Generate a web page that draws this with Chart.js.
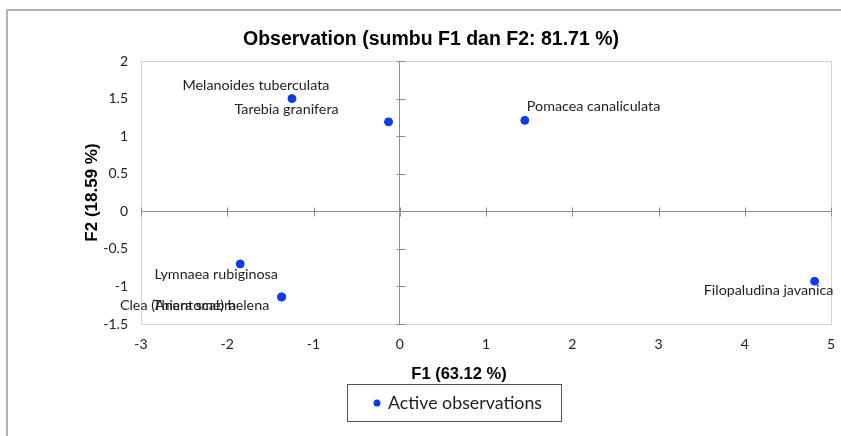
<!DOCTYPE html>
<html>
<head>
<meta charset="utf-8">
<script src="https://cdn.jsdelivr.net/npm/chart.js@4"></script>
<style>
  html, body { margin: 0; padding: 0; background: #fff; }
  #wrap { width: 841px; height: 436px; }
</style>
</head>
<body>
<div id="wrap"><canvas id="chart" width="841" height="436"></canvas></div>
<script>
"use strict";

// observations (F1, F2)
var names = ["Melanoides tuberculata", "Tarebia granifera", "Pomacea canaliculata",
  "Lymnaea rubiginosa", "Clea (Anentome) helena", "Thiara scabra", "Filopaludina javanica"];
var f1 = [-1.25, -0.13, 1.45, -1.85, -1.37, -1.37, 4.81];
var f2 = [1.50, 1.19, 1.21, -0.70, -1.14, -1.14, -0.93];

var xTicks = [-3, -2, -1, 0, 1, 2, 3, 4, 5];
var yTicks = [-1.5, -1, -0.5, 0, 0.5, 1, 1.5, 2];

var xTitle = "F1 (63.12 %)";
var yTitle = "F2 (18.59 %)";

// label placement relative to each point (px)
var labelDx = [-36, -102, 2, -24, -87, -87, -46];
var labelDy = [-13, -12, -14, 10, 8, 8, 9];
var labelAlign = ["center", "center", "left", "center", "center", "center", "center"];

var BLUE = "#0a3df2";
var FONT = "Lato, 'Open Sans', sans-serif";
var BOLD = "'Liberation Sans', Arial, sans-serif";

var points = f1.map(function (x, i) { return {x: x, y: f2[i]}; });

var decorPlugin = {
  id: "decor",
  beforeDraw: function (chart) {
    var ctx = chart.ctx, a = chart.chartArea;
    ctx.save();
    // outer frame (left + top)
    ctx.strokeStyle = "#b4b4b4";
    ctx.lineWidth = 2;
    ctx.beginPath();
    ctx.moveTo(841, 10);
    ctx.lineTo(7, 10);
    ctx.lineTo(7, 436);
    ctx.stroke();
    // plot box
    ctx.strokeStyle = "#d4d4d4";
    ctx.lineWidth = 1;
    ctx.strokeRect(a.left + 0.5, a.top + 0.5, a.right - a.left, a.bottom - a.top);
    ctx.restore();
  },
  afterDatasetsDraw: function (chart) {
    var ctx = chart.ctx, xs = chart.scales.x, ys = chart.scales.y;
    var x0 = Math.round(xs.getPixelForValue(0)) + 0.5;
    var y0 = Math.round(ys.getPixelForValue(0)) + 0.5;
    ctx.save();
    // tick marks across zero axes
    ctx.strokeStyle = "#8c8c8c";
    ctx.lineWidth = 1;
    ctx.beginPath();
    yTicks.forEach(function (v) {
      var py = Math.round(ys.getPixelForValue(v)) + 0.5;
      ctx.moveTo(x0 - 4, py); ctx.lineTo(x0 + 5, py);
    });
    xTicks.forEach(function (v) {
      var px = Math.round(xs.getPixelForValue(v)) + 0.5;
      ctx.moveTo(px, y0 - 4); ctx.lineTo(px, y0 + 5);
    });
    ctx.stroke();
    // point labels
    ctx.font = "14.3px " + FONT;
    ctx.fillStyle = "#1e1e1e";
    ctx.textBaseline = "middle";
    chart.getDatasetMeta(0).data.forEach(function (el, i) {
      ctx.textAlign = labelAlign[i];
      ctx.fillText(names[i], el.x + labelDx[i], el.y + labelDy[i]);
    });
    ctx.restore();
  },
  afterDraw: function (chart) {
    var ctx = chart.ctx;
    ctx.save();
    // x axis title
    ctx.fillStyle = "#000";
    ctx.font = "bold 16.5px " + BOLD;
    ctx.textAlign = "center";
    ctx.textBaseline = "middle";
    ctx.fillText(xTitle, 459, 374);
    // legend box
    ctx.strokeStyle = "#555";
    ctx.lineWidth = 1;
    ctx.strokeRect(347.5, 384.5, 214, 37);
    ctx.fillStyle = BLUE;
    ctx.beginPath();
    ctx.arc(377, 403, 3.5, 0, Math.PI * 2);
    ctx.fill();
    ctx.fillStyle = "#1e1e1e";
    ctx.font = "17.8px " + FONT;
    ctx.textAlign = "left";
    ctx.fillText(chart.data.datasets[0].label, 388, 403);
    ctx.restore();
  }
};

new Chart(document.getElementById("chart"), {
  type: "scatter",
  data: {
    datasets: [{
      label: "Active observations",
      data: points,
      backgroundColor: BLUE,
      borderColor: BLUE,
      pointRadius: 4,
      pointHoverRadius: 4
    }]
  },
  options: {
    responsive: false,
    animation: false,
    events: [],
    layout: { padding: { left: 31, right: 10, top: 0, bottom: 52 } },
    plugins: {
      legend: { display: false },
      tooltip: { enabled: false },
      title: {
        display: true,
        text: "Observation (sumbu F1 dan F2: 81.71 %)",
        color: "#000",
        font: { family: BOLD, size: 19.5, weight: "bold" },
        padding: { top: 28.3, bottom: 9.3 }
      }
    },
    scales: {
      x: {
        type: "linear",
        min: -3, max: 5,
        afterBuildTicks: function (s) { s.ticks = xTicks.map(function (v) { return {value: v}; }); },
        afterFit: function (s) { s.height = 60; },
        ticks: {
          color: "#222", padding: 3,
          font: { family: FONT, size: 14 },
          callback: function (v) { return String(v); }
        },
        grid: {
          drawTicks: true,
          tickLength: 9,
          tickColor: "rgba(0,0,0,0)",
          color: function (c) { return c.tick && c.tick.value === 0 ? "#8c8c8c" : "rgba(0,0,0,0)"; }
        },
        border: { display: false }
      },
      y: {
        type: "linear",
        min: -1.5, max: 2,
        afterBuildTicks: function (s) { s.ticks = yTicks.map(function (v) { return {value: v}; }); },
        afterFit: function (s) { s.width = 110; },
        ticks: {
          color: "#222", padding: 13,
          font: { family: FONT, size: 14 },
          callback: function (v) { return String(v); }
        },
        grid: {
          drawTicks: false,
          color: function (c) { return c.tick && c.tick.value === 0 ? "#8c8c8c" : "rgba(0,0,0,0)"; }
        },
        border: { display: false },
        title: {
          display: true, text: yTitle, color: "#000",
          font: { family: BOLD, size: 17, weight: "bold" },
          padding: { top: 50.8, bottom: 0 }
        }
      }
    }
  },
  plugins: [decorPlugin]
});
</script>
</body>
</html>
